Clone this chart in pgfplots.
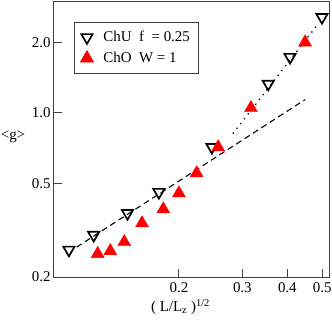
\documentclass[border=0pt]{standalone}
\usepackage{fontspec}
\setmainfont{Liberation Serif}
\usepackage{pgfplots}
\pgfplotsset{compat=1.18}

\begin{document}
\begin{tikzpicture}
\begin{axis}[
    scale only axis,
    width=275bp, height=276bp,
    xmode=log, ymode=log,
    xmin=0.09, xmax=0.522,
    ymin=0.2, ymax=3,
    axis line style={black!75, line width=1pt},
    xtick={0.2,0.3,0.4,0.5},
    xticklabels={0.2,0.3,0.4,0.5},
    ytick={0.2,0.5,1.0,2.0},
    yticklabels={0.2,0.5,1.0,2.0},
    minor tick num=0,
    minor xtick={}, minor ytick={},
    tick align=inside,
    xtick pos=bottom, ytick pos=left,
    major tick length=8bp,
    tick style={black!75, line width=1pt},
    /pgf/number format/assume math mode=true,
    font=\fontsize{15}{17}\selectfont,
    tick label style={font=\fontsize{15}{17}\selectfont},
    xticklabel style={yshift=-2bp},
    xlabel={( L/L\textsubscript{z} )\textsuperscript{1/2}},
    ylabel={<g>},
    every axis x label/.style={at={(axis description cs:0.46,0)}, anchor=north, yshift=-19bp},
    every axis y label/.style={at={(axis description cs:0,0.507)}, anchor=center, xshift=-41bp},
    legend style={at={(axis description cs:0.073,0.924)}, anchor=north west,
        draw=black!75, line width=0.8pt, inner xsep=6bp, inner ysep=7bp,
        font=\fontsize{15}{17}\selectfont, row sep=5bp},
    legend cell align=left,
]
% fits
\addplot[black, dashed, line width=1.1pt, dash pattern=on 6bp off 4bp, forget plot]
    coordinates {(0.104,0.268) (0.448,1.14)};
\addplot[black, line width=1.8pt, dash pattern=on 0.1bp off 6bp, line cap=round, forget plot]
    coordinates {(0.283,0.82) (0.483,2.36)};
% ChU
\addplot[only marks, mark=triangle, mark size=6.5bp, black,
    mark options={line width=1.7pt, fill=white, rotate=180}]
    coordinates {
    (0.099,0.261) (0.116,0.302) (0.144,0.374) (0.176,0.460)
    (0.247,0.715) (0.354,1.33) (0.407,1.73) (0.499,2.56)
};
\addlegendentry{\hspace{8bp}ChU\ \ f\ \ = 0.25}
% ChO
\addplot[only marks, mark=triangle*, mark size=7.5bp, red,
    mark options={draw=red, fill=red}]
    coordinates {
    (0.119,0.251) (0.129,0.258) (0.141,0.282) (0.158,0.339)
    (0.181,0.389) (0.200,0.455) (0.224,0.554) (0.257,0.715)
    (0.317,1.05) (0.448,2.0)
};
\addlegendentry{\hspace{8bp}ChO\ \ W = 1}
\end{axis}
\pgfresetboundingbox
\path[use as bounding box] (-54bp,-43bp) rectangle (278bp,277bp);
\end{tikzpicture}
\end{document}
